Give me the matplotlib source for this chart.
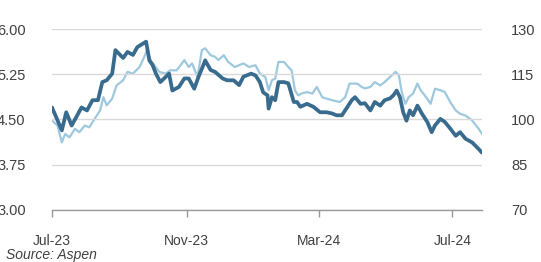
import matplotlib
matplotlib.use("Agg")
import matplotlib.pyplot as plt
import matplotlib.dates as mdates
import pandas as pd

# dark series (left axis)
dark_dates = ["2023-07-01", "2023-07-10", "2023-07-14", "2023-07-19", "2023-07-28",
              "2023-08-02", "2023-08-07", "2023-08-12", "2023-08-16", "2023-08-20",
              "2023-08-25", "2023-08-28", "2023-09-04", "2023-09-08", "2023-09-13",
              "2023-09-17", "2023-09-25", "2023-09-28", "2023-10-01", "2023-10-04",
              "2023-10-08", "2023-10-16", "2023-10-19", "2023-10-25", "2023-10-30",
              "2023-11-03", "2023-11-08", "2023-11-12", "2023-11-17", "2023-11-18",
              "2023-11-23", "2023-11-27", "2023-12-04", "2023-12-08", "2023-12-14",
              "2023-12-19", "2023-12-23", "2023-12-30", "2024-01-03", "2024-01-07",
              "2024-01-10", "2024-01-14", "2024-01-15", "2024-01-18", "2024-01-21",
              "2024-01-24", "2024-01-29", "2024-02-02", "2024-02-07", "2024-02-10",
              "2024-02-13", "2024-02-19", "2024-02-25", "2024-03-02", "2024-03-08",
              "2024-03-13", "2024-03-17", "2024-03-22", "2024-03-26", "2024-03-31",
              "2024-04-03", "2024-04-08", "2024-04-12", "2024-04-17", "2024-04-21",
              "2024-04-26", "2024-04-30", "2024-05-05", "2024-05-08", "2024-05-11",
              "2024-05-14", "2024-05-17", "2024-05-20", "2024-05-23", "2024-05-26",
              "2024-05-30", "2024-06-03", "2024-06-08", "2024-06-12", "2024-06-15",
              "2024-06-20", "2024-06-24", "2024-06-29", "2024-07-04", "2024-07-08",
              "2024-07-13", "2024-07-19", "2024-07-25", "2024-07-28"]
dark_vals = [4.70, 4.32, 4.62, 4.40, 4.70,
             4.65, 4.82, 4.82, 5.12, 5.15,
             5.26, 5.65, 5.52, 5.62, 5.57,
             5.70, 5.79, 5.48, 5.40, 5.26,
             5.12, 5.26, 4.98, 5.04, 5.18,
             5.18, 5.01, 5.21, 5.43, 5.48,
             5.32, 5.29, 5.18, 5.15, 5.15,
             5.07, 5.21, 5.26, 5.23, 5.12,
             4.95, 4.90, 4.68, 4.87, 4.82,
             5.12, 5.12, 5.10, 4.79, 4.79,
             4.71, 4.76, 4.71, 4.62, 4.62,
             4.60, 4.57, 4.57, 4.68, 4.82,
             4.87, 4.76, 4.77, 4.65, 4.79,
             4.73, 4.82, 4.85, 4.90, 4.98,
             4.87, 4.62, 4.48, 4.65, 4.57,
             4.73, 4.60, 4.46, 4.29, 4.40,
             4.51, 4.46, 4.35, 4.23, 4.29,
             4.18, 4.12, 4.01, 3.95]

# light series (right axis)
light_dates = ["2023-07-01", "2023-07-06", "2023-07-10", "2023-07-13", "2023-07-17",
               "2023-07-22", "2023-07-26", "2023-07-31", "2023-08-04", "2023-08-09",
               "2023-08-14", "2023-08-17", "2023-08-20", "2023-08-25", "2023-08-29",
               "2023-09-04", "2023-09-08", "2023-09-13", "2023-09-19", "2023-09-22",
               "2023-09-26", "2023-09-29", "2023-10-07", "2023-10-13", "2023-10-17",
               "2023-10-23", "2023-10-30", "2023-11-03", "2023-11-06", "2023-11-11",
               "2023-11-15", "2023-11-18", "2023-11-23", "2023-11-27", "2023-11-30",
               "2023-12-05", "2023-12-09", "2023-12-15", "2023-12-23", "2023-12-28",
               "2024-01-03", "2024-01-07", "2024-01-12", "2024-01-15", "2024-01-18",
               "2024-01-21", "2024-01-24", "2024-01-29", "2024-02-02", "2024-02-05",
               "2024-02-08", "2024-02-11", "2024-02-14", "2024-02-19", "2024-02-24",
               "2024-02-28", "2024-03-04", "2024-03-08", "2024-03-14", "2024-03-20",
               "2024-03-25", "2024-03-29", "2024-04-05", "2024-04-09", "2024-04-12",
               "2024-04-17", "2024-04-21", "2024-04-26", "2024-04-30", "2024-05-05",
               "2024-05-10", "2024-05-13", "2024-05-16", "2024-05-19", "2024-05-22",
               "2024-05-26", "2024-05-30", "2024-06-02", "2024-06-07", "2024-06-11",
               "2024-06-15", "2024-06-20", "2024-06-24", "2024-06-29", "2024-07-04",
               "2024-07-08", "2024-07-13", "2024-07-19", "2024-07-25", "2024-07-28"]
light_vals = [99.7, 98.0, 92.4, 95.2, 94.1,
              96.9, 95.8, 98.0, 97.4, 100.2,
              103.0, 107.4, 104.7, 106.9, 111.3,
              113.0, 115.8, 115.2, 117.4, 119.7,
              123.0, 119.7, 115.8, 115.2, 116.3,
              116.3, 119.7, 117.4, 118.6, 114.1,
              123.0, 123.6, 121.3, 120.8, 119.7,
              121.3, 119.1, 117.4, 118.6, 117.4,
              118.0, 115.2, 114.1, 109.7, 113.0,
              113.6, 119.1, 119.1, 117.4, 116.3,
              109.7, 108.0, 108.6, 109.1, 108.6,
              110.8, 107.4, 106.9, 106.3, 105.8,
              107.4, 111.9, 111.9, 110.8, 110.3,
              110.8, 112.4, 111.3, 112.4, 114.1,
              115.8, 114.7, 108.6, 105.2, 107.4,
              108.6, 111.9, 109.7, 107.4, 105.2,
              110.2, 109.7, 109.1, 105.8, 103.0,
              101.9, 101.3, 99.7, 96.9, 95.3]

left_ticks = [3.00, 3.75, 4.50, 5.25, 6.00]
right_ticks = [70, 85, 100, 115, 130]
x_ticks = ["2023-07-01", "2023-11-01", "2024-03-01", "2024-07-01"]

dark_color = "#386b8d"
light_color = "#9ec8dd"
text_color = "#404040"

plt.rcParams["font.family"] = ["Liberation Sans", "DejaVu Sans"]

fig = plt.figure(figsize=(5.41, 2.62), dpi=100)
ax = fig.add_axes([0.0961, 0.1985, 0.7948, 0.6908])
ax2 = ax.twinx()

ax2.plot(pd.to_datetime(light_dates), light_vals, color=light_color, lw=1.6,
         solid_joinstyle="round")
ax.plot(pd.to_datetime(dark_dates), dark_vals, color=dark_color, lw=2.7,
        solid_joinstyle="round", solid_capstyle="round")
ax.set_zorder(ax2.get_zorder() + 1)
ax.patch.set_visible(False)

ax.set_ylim(3.0, 6.0)
ax.set_yticks(left_ticks)
ax.set_yticklabels([f"{v:.2f}" for v in left_ticks])
ax2.set_ylim(70, 130)
ax2.set_yticks(right_ticks)
ax2.set_yticklabels([str(v) for v in right_ticks])

ax.set_xlim(pd.Timestamp("2023-07-01"), pd.Timestamp("2024-07-28"))
ax.set_xticks(pd.to_datetime(x_ticks))
ax.xaxis.set_major_formatter(mdates.DateFormatter("%b-%y"))

ax.grid(axis="y", color="#d9d9d9", lw=1.0)
ax.set_axisbelow(True)

for a in (ax, ax2):
    for s in ("top", "left", "right", "bottom"):
        a.spines[s].set_visible(False)
ax.spines["bottom"].set_visible(True)
ax.spines["bottom"].set_color("#999999")
ax.spines["bottom"].set_linewidth(1.0)

ax.tick_params(axis="y", length=0, pad=19, labelsize=10.5, labelcolor=text_color)
ax2.tick_params(axis="y", length=0, pad=21, labelsize=10.5, labelcolor=text_color)
ax.tick_params(axis="x", length=5, width=1, color="#999999", pad=12,
               labelsize=10, labelcolor=text_color)

fig.text(0.012, 0.027, "Source: Aspen", fontsize=10, style="italic",
         color=text_color, ha="left", va="center")

fig.savefig("out.png", dpi=100)
